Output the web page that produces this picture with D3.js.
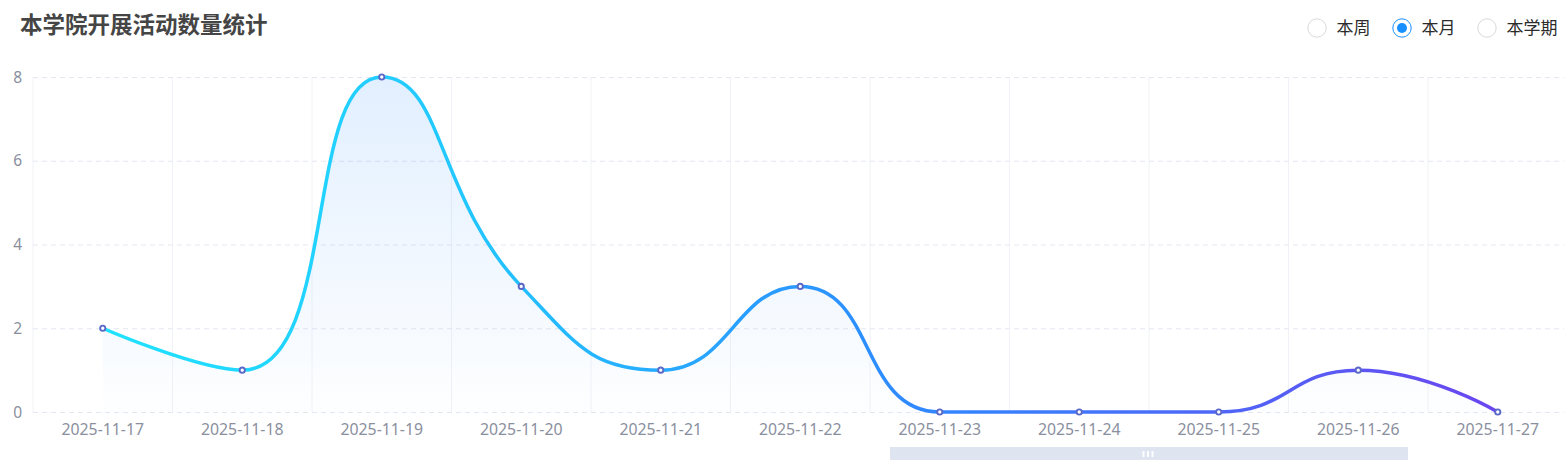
<!DOCTYPE html>
<html><head><meta charset="utf-8">
<script src="https://cdn.jsdelivr.net/npm/d3@7/dist/d3.min.js"></script>
<style>
html,body{margin:0;padding:0;background:#fff;overflow:hidden;}
svg{display:block;font-family:"Noto Sans CJK SC","Noto Sans",sans-serif;}
</style></head><body>
<svg id="c" width="1564" height="465"></svg>
<script>
const title = "本学院开展活动数量统计";
const categories = ["2025-11-17","2025-11-18","2025-11-19","2025-11-20","2025-11-21","2025-11-22","2025-11-23","2025-11-24","2025-11-25","2025-11-26","2025-11-27"];
const values = [2,1,8,3,1,3,0,0,0,1,0];
const yTicks = [0,2,4,6,8];
const options = ["本周","本月","本学期"];
const selected = "本月";

(function(){
const svg = d3.select("#c");
const left = 33, bandW = 139.5, plotTop = 77, plotBottom = 412;
const x = d3.scaleBand().domain(categories).range([left, left + bandW*categories.length]);
const y = d3.scaleLinear().domain([0,8]).range([plotBottom, plotTop]);
const cx = d => x(d) + x.bandwidth()/2;

// ECharts-style smooth path (smooth = 0.5) built from scaled points
function smoothPath(pts, smooth){
  const p = d3.path();
  const n = pts.length;
  p.moveTo(pts[0][0], pts[0][1]);
  let cpx0 = pts[0][0], cpy0 = pts[0][1];
  for (let i = 1; i < n; i++){
    const [px, py] = pts[i-1];
    const [xx, yy] = pts[i];
    let cpx1, cpy1, nextCpx0, nextCpy0;
    if (i + 1 < n){
      const [nx, ny] = pts[i+1];
      let vx = nx - px, vy = ny - py;
      const dx0 = xx - px, dy0 = yy - py, dx1 = nx - xx, dy1 = ny - yy;
      const lenPrev = Math.sqrt(dx0*dx0 + dy0*dy0);
      const lenNext = Math.sqrt(dx1*dx1 + dy1*dy1);
      const ratio = lenNext / (lenNext + lenPrev);
      nextCpx0 = xx + vx * smooth * ratio;
      nextCpy0 = yy + vy * smooth * ratio;
      nextCpx0 = Math.min(nextCpx0, Math.max(nx, xx)); nextCpx0 = Math.max(nextCpx0, Math.min(nx, xx));
      nextCpy0 = Math.min(nextCpy0, Math.max(ny, yy)); nextCpy0 = Math.max(nextCpy0, Math.min(ny, yy));
      vx = nextCpx0 - xx; vy = nextCpy0 - yy;
      cpx1 = xx - vx * lenPrev / lenNext;
      cpy1 = yy - vy * lenPrev / lenNext;
      cpx1 = Math.min(cpx1, Math.max(px, xx)); cpx1 = Math.max(cpx1, Math.min(px, xx));
      cpy1 = Math.min(cpy1, Math.max(py, yy)); cpy1 = Math.max(cpy1, Math.min(py, yy));
      vx = xx - cpx1; vy = yy - cpy1;
      nextCpx0 = xx + vx * lenNext / lenPrev;
      nextCpy0 = yy + vy * lenNext / lenPrev;
    } else {
      cpx1 = xx; cpy1 = yy; nextCpx0 = xx; nextCpy0 = yy;
    }
    p.bezierCurveTo(cpx0, cpy0, cpx1, cpy1, xx, yy);
    cpx0 = nextCpx0; cpy0 = nextCpy0;
  }
  return p;
}
const pts = values.map((v,i) => [cx(categories[i]), y(v)]);
const linePath = smoothPath(pts, 0.5).toString();
const areaPath = linePath + `L${pts[pts.length-1][0]},${y(0)}L${pts[0][0]},${y(0)}Z`;

const defs = svg.append("defs");
const lg = defs.append("linearGradient").attr("id","lineG").attr("gradientUnits","userSpaceOnUse")
  .attr("x1", cx(categories[0])).attr("x2", cx(categories[categories.length-1])).attr("y1",0).attr("y2",0);
lg.append("stop").attr("offset","0%").attr("stop-color","#20e2ff");
lg.append("stop").attr("offset","25%").attr("stop-color","#22c8ff");
lg.append("stop").attr("offset","55%").attr("stop-color","#2c8eff");
lg.append("stop").attr("offset","100%").attr("stop-color","#6a46f0");
const ag = defs.append("linearGradient").attr("id","areaG").attr("gradientUnits","userSpaceOnUse")
  .attr("x1",0).attr("x2",0).attr("y1",plotTop).attr("y2",plotBottom);
ag.append("stop").attr("offset","0%").attr("stop-color","#4a9dff").attr("stop-opacity",0.16);
ag.append("stop").attr("offset","100%").attr("stop-color","#4a9dff").attr("stop-opacity",0.01);

// vertical grid
const vb = categories.map(c => x(c)).concat([x.range()[1]]);
svg.append("g").selectAll("line").data(vb).join("line")
  .attr("x1",d=>d).attr("x2",d=>d).attr("y1",plotTop).attr("y2",plotBottom)
  .attr("stroke","#f1f2f7").attr("stroke-width",1);

// horizontal grid
svg.append("g").selectAll("line").data(yTicks).join("line")
  .attr("x1",left).attr("x2",1564).attr("y1",d=>y(d)+0.5).attr("y2",d=>y(d)+0.5)
  .attr("stroke","#e3e7f1").attr("stroke-width",1).attr("stroke-dasharray","5,4");

// y labels
svg.append("g").selectAll("text").data(yTicks).join("text")
  .attr("x",22).attr("y",d=>y(d)+5.5).attr("text-anchor","end")
  .attr("fill","#8a8f9e").attr("font-size",15.5).attr("font-family","'Noto Sans','Liberation Sans',sans-serif").text(d=>d);

// x labels
svg.append("g").selectAll("text").data(categories).join("text")
  .attr("x",d=>cx(d)).attr("y",435).attr("text-anchor","middle")
  .attr("fill","#8a8f9e").attr("font-size",15.8).attr("font-family","'Noto Sans','Liberation Sans',sans-serif").text(d=>d);

svg.append("path").attr("d",areaPath).attr("fill","url(#areaG)");
svg.append("path").attr("d",linePath).attr("fill","none")
  .attr("stroke","url(#lineG)").attr("stroke-width",3.5).attr("stroke-linecap","round");

svg.append("g").selectAll("circle").data(values).join("circle")
  .attr("cx",(d,i)=>cx(categories[i])).attr("cy",d=>y(d)).attr("r",2.6)
  .attr("fill","#fff").attr("stroke","#5a68c8").attr("stroke-width",1.9);

// title
svg.append("text").attr("x",20).attr("y",33).attr("font-size",22.5).attr("font-weight","bold")
  .attr("fill","#454545").text(title);

// radios
const rx = [1317, 1402, 1487];
const rg = svg.append("g").selectAll("g").data(options).join("g")
  .attr("transform",(d,i)=>`translate(${rx[i]},28)`);
rg.append("circle").attr("r",9.2).attr("fill","#fff")
  .attr("stroke",d=>d===selected?"#1890ff":"#d9d9d9").attr("stroke-width",1);
rg.filter(d=>d===selected).append("circle").attr("r",5).attr("fill","#1890ff");
rg.append("text").attr("x",19.5).attr("y",6).attr("font-size",17).attr("fill","#2b2b2b").text(d=>d);

// data zoom bar
svg.append("rect").attr("x",890).attr("y",447).attr("width",518).attr("height",13).attr("fill","#dfe4f1");
svg.append("g").selectAll("rect").data([-4.5,0,4.5]).join("rect")
  .attr("x",d=>1147+d).attr("y",451).attr("width",2).attr("height",6).attr("fill","#fff").attr("opacity",0.9);
})();
</script></body></html>
